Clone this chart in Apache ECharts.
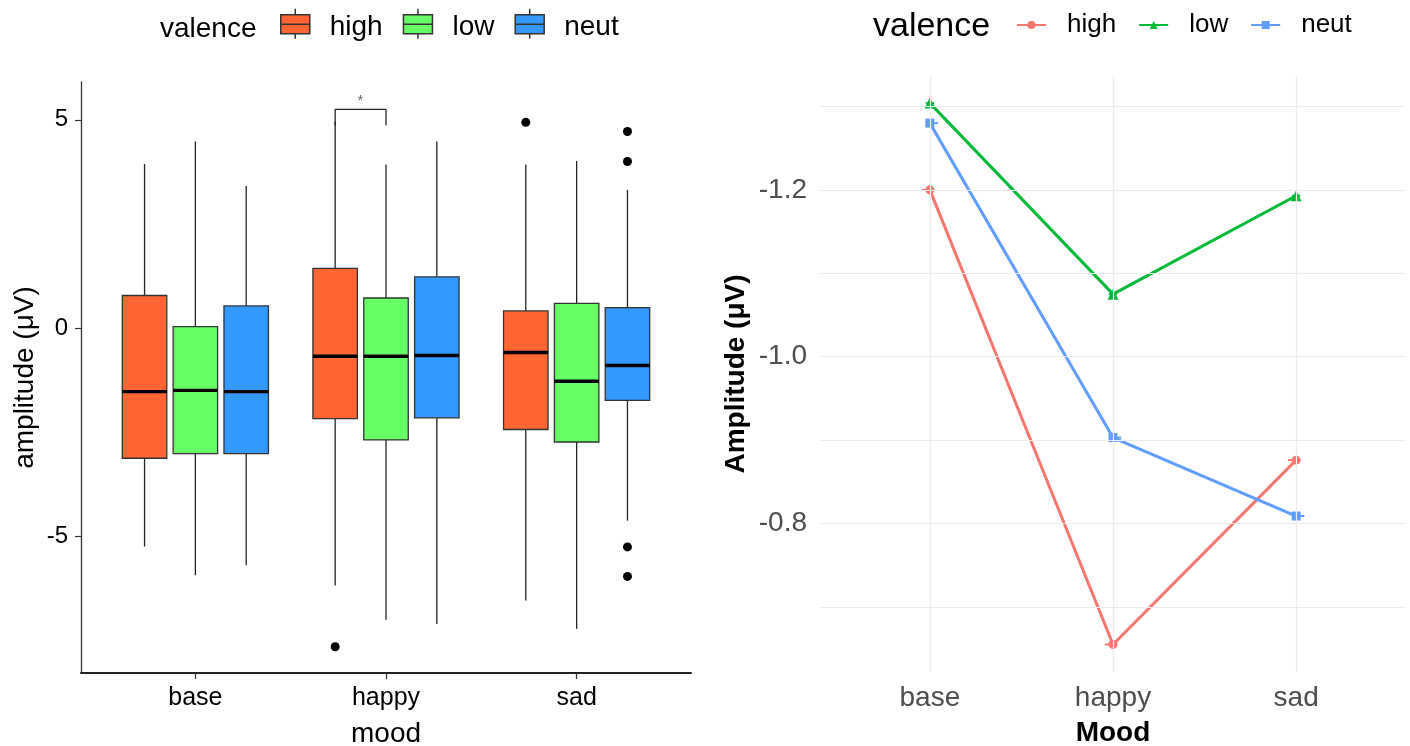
<!DOCTYPE html>
<html>
<head>
<meta charset="utf-8">
<script src="https://cdn.jsdelivr.net/npm/echarts@6/dist/echarts.min.js"></script>
<style>html,body{margin:0;padding:0;background:#fff}#c{width:1410px;height:746px}</style>
</head>
<body>
<div id="c"></div>
<script>
// ---------- data ----------
const moods = ['base', 'happy', 'sad'];
const valences = ['high', 'low', 'neut'];
// [lower whisker, Q1, median, Q3, upper whisker] for base, happy, sad
const boxHigh = [[-5.25, -3.13, -1.53, 0.78, 3.94], [-6.19, -2.18, -0.68, 1.43, 4.95], [-6.55, -2.44, -0.59, 0.41, 3.93]];
const boxLow  = [[-5.94, -3.02, -1.50, 0.03, 4.48], [-7.01, -2.69, -0.68, 0.72, 3.93], [-7.23, -2.74, -1.28, 0.59, 4.01]];
const boxNeut = [[-5.70, -3.02, -1.53, 0.53, 3.41], [-7.11, -2.16, -0.66, 1.23, 4.48], [-4.63, -1.74, -0.90, 0.49, 3.32]];
// outliers: [mood number (1..3), value]
const outlierHigh = [[2, -7.66], [3, 4.94]];
const outlierLow = [];
const outlierNeut = [[3, 4.72], [3, 4.00], [3, -5.26], [3, -5.97]];
// significance bracket (happy: high vs low)
const sigMood = [2];
const sigY = [5.25];
const sigTipY = [4.87, 4.87];
const sigLabel = ['*'];
const leftYTicks = [-5, 0, 5];

// right panel: means
const meanHigh = [-1.200, -0.655, -0.876];
const meanLow  = [-1.304, -1.075, -1.193];
const meanNeut = [-1.280, -0.903, -0.809];
const rightYTicks = [-1.2, -1.0, -0.8];
const rightGridY = [-1.3, -1.2, -1.1, -1.0, -0.9, -0.8, -0.7];

// ---------- styles ----------
const FONT = '"Liberation Sans", Arial, sans-serif';
const boxColors = ['#FF6633', '#66FF66', '#3399FF'];
const lineColors = ['#F8766D', '#00BA38', '#619CFF'];
const lineSymbols = ['circle', 'triangle', 'rect'];
const DODGE = 0.8 / 3;
const HALF = 0.7 / 3 / 2;
const ERR_W = 0.045;
const catPos = [1, 2, 3];

function makeBoxRenderer(vi) {
  return function (params, api) {
    const xc = api.value(0) + (vi - 1) * DODGE;
    const pLo = api.coord([xc, api.value(1)]);
    const pQ1 = api.coord([xc, api.value(2)]);
    const pMed = api.coord([xc, api.value(3)]);
    const pQ3 = api.coord([xc, api.value(4)]);
    const pHi = api.coord([xc, api.value(5)]);
    const xl = api.coord([xc - HALF, 0])[0];
    const xr = api.coord([xc + HALF, 0])[0];
    const ln = (x1, y1, x2, y2, w, c) => ({ type: 'line', shape: { x1, y1, x2, y2 }, style: { stroke: c, lineWidth: w } });
    return {
      type: 'group',
      children: [
        ln(pHi[0], pHi[1], pQ3[0], pQ3[1], 1.3, '#222'),
        ln(pQ1[0], pQ1[1], pLo[0], pLo[1], 1.3, '#222'),
        { type: 'rect', shape: { x: xl, y: pQ3[1], width: xr - xl, height: pQ1[1] - pQ3[1] },
          style: { fill: boxColors[vi], stroke: '#333', lineWidth: 1.3 } },
        ln(xl, pMed[1], xr, pMed[1], 3.4, '#000')
      ]
    };
  };
}

function makeDashRenderer(vi) {
  return function (params, api) {
    const x = api.value(0), y = api.value(1);
    const a = api.coord([x + (vi - 1) * ERR_W / 2 - ERR_W / 2, y]);
    const b = api.coord([x + (vi - 1) * ERR_W / 2 + ERR_W / 2, y]);
    return { type: 'line', shape: { x1: a[0], y1: a[1], x2: b[0], y2: b[1] }, style: { stroke: lineColors[vi], lineWidth: 2 } };
  };
}

const boxSets = [boxHigh, boxLow, boxNeut];
const outlierSets = [outlierHigh, outlierLow, outlierNeut];
const meanSets = [meanHigh, meanLow, meanNeut];

const series = [];
boxSets.forEach((set, vi) => {
  series.push({
    name: valences[vi], type: 'custom', xAxisIndex: 0, yAxisIndex: 0,
    renderItem: makeBoxRenderer(vi),
    itemStyle: { color: boxColors[vi] },
    encode: { x: 0, y: [1, 2, 3, 4, 5] },
    data: set.map((b, i) => [catPos[i]].concat(b)),
    z: 2
  });
});
outlierSets.forEach((set, vi) => {
  series.push({
    name: valences[vi], type: 'scatter', xAxisIndex: 0, yAxisIndex: 0,
    symbol: 'circle', symbolSize: 9, itemStyle: { color: '#000', borderWidth: 0, opacity: 1 },
    data: set.map(d => [d[0] + (vi - 1) * DODGE, d[1]]),
    z: 3, silent: true
  });
});
// significance bracket
const xA = sigMood[0] + (0 - 1) * DODGE;
const xB = sigMood[0] + (1 - 1) * DODGE;
series.push({
  type: 'line', xAxisIndex: 0, yAxisIndex: 0, silent: true, symbol: 'none',
  lineStyle: { color: '#222', width: 1.3 },
  data: [[xA, sigTipY[0]], [xA, sigY[0]], [xB, sigY[0]], [xB, sigTipY[1]]],
  z: 4
});
series.push({
  type: 'scatter', xAxisIndex: 0, yAxisIndex: 0, silent: true, symbolSize: 0,
  label: { show: true, position: 'inside', formatter: sigLabel[0], fontSize: 14, color: '#333', fontFamily: FONT },
  data: [[(xA + xB) / 2, sigY[0] + 0.2]],
  z: 4
});
// right panel gridlines
series.push({
  type: 'line', xAxisIndex: 1, yAxisIndex: 1, data: [], silent: true, z: 1,
  markLine: {
    silent: true, symbol: 'none', label: { show: false }, animation: false,
    lineStyle: { color: '#EBEBEB', width: 1.2, type: 'solid' },
    emphasis: { disabled: true },
    data: rightGridY.map(v => ({ yAxis: v })).concat(catPos.map(v => ({ xAxis: v })))
  }
});
meanSets.forEach((set, vi) => {
  series.push({
    type: 'custom', xAxisIndex: 1, yAxisIndex: 1, silent: true, z: 3,
    renderItem: makeDashRenderer(vi),
    encode: { x: 0, y: 1 },
    data: set.map((v, i) => [catPos[i], v])
  });
});
meanSets.forEach((set, vi) => {
  series.push({
    name: 'mean:' + valences[vi], type: 'line', xAxisIndex: 1, yAxisIndex: 1,
    symbol: lineSymbols[vi], symbolSize: vi === 1 ? 11 : 9, showSymbol: true,
    lineStyle: { color: lineColors[vi], width: 3 },
    itemStyle: { color: lineColors[vi], borderWidth: 0, opacity: 1 },
    emphasis: { disabled: true },
    data: set.map((v, i) => [catPos[i], v]),
    z: 4
  });
});

const option = {
  animation: false,
  textStyle: { fontFamily: FONT },
  title: [
    { text: 'valence', left: 160, top: 15, padding: 0, textStyle: { fontSize: 28, fontWeight: 'normal', color: '#000', fontFamily: FONT } },
    { text: 'valence', left: 873, top: 10, padding: 0, textStyle: { fontSize: 34, fontWeight: 'normal', color: '#000', fontFamily: FONT } }
  ],
  legend: [
    {
      left: 280, top: 8, padding: 0, orient: 'horizontal',
      itemWidth: 29, itemHeight: 38, itemGap: 20,
      textStyle: { fontSize: 28, color: '#000', fontFamily: FONT, padding: [0, 0, 0, 15] },
      data: valences.map((v, i) => ({
        name: v,
        icon: 'path://M0,6L29,6L29,25L0,25Z M0,15.5L29,15.5 M14.5,0L14.5,6 M14.5,25L14.5,30 M0,38',
        itemStyle: { color: boxColors[i], borderColor: '#333', borderWidth: 1.5 }
      })),
      selectedMode: false
    },
    {
      left: 1016, top: 12, padding: 0, orient: 'horizontal',
      itemWidth: 29, itemHeight: 10, itemGap: 22,
      textStyle: { fontSize: 26, color: '#000', fontFamily: FONT, padding: [4, 0, 0, 16] },
      formatter: n => n.split(':')[1],
      data: valences.map(v => 'mean:' + v),
      selectedMode: false
    }
  ],
  grid: [
    { left: 81, right: 719, top: 82, bottom: 73, outerBoundsMode: 'none' },
    { left: 820, right: 4, top: 76, bottom: 74, outerBoundsMode: 'none' }
  ],
  xAxis: [
    {
      type: 'value', gridIndex: 0, min: 0.4, max: 3.6,
      splitLine: { show: false },
      axisLine: { show: true, onZero: false, lineStyle: { color: '#222', width: 2 } },
      axisTick: { show: true, customValues: catPos, length: 6, lineStyle: { color: '#333', width: 1.2 } },
      axisLabel: { customValues: catPos, formatter: v => moods[Math.round(v) - 1], fontSize: 25, color: '#000', margin: 13, fontFamily: FONT },
      name: 'mood', nameLocation: 'middle', nameGap: 47,
      nameTextStyle: { fontSize: 28, color: '#000', fontFamily: FONT }
    },
    {
      type: 'value', gridIndex: 1, min: 0.4, max: 3.6,
      splitLine: { show: false },
      axisLine: { show: false, onZero: false }, axisTick: { show: false },
      axisLabel: { customValues: catPos, formatter: v => moods[Math.round(v) - 1], fontSize: 28, color: '#4D4D4D', margin: 12, fontFamily: FONT },
      name: 'Mood', nameLocation: 'middle', nameGap: 47,
      nameTextStyle: { fontSize: 28, color: '#000', fontWeight: 'bold', fontFamily: FONT }
    }
  ],
  yAxis: [
    {
      type: 'value', gridIndex: 0, min: -8.29, max: 5.91,
      splitLine: { show: false },
      axisLine: { show: true, onZero: false, lineStyle: { color: '#333', width: 1.3 } },
      axisTick: { show: true, customValues: leftYTicks, length: 6, lineStyle: { color: '#333', width: 1.2 } },
      axisLabel: { customValues: leftYTicks, fontSize: 24, color: '#000', margin: 13, fontFamily: FONT },
      name: 'amplitude (μV)', nameLocation: 'middle', nameGap: 42, nameRotate: 90,
      nameTextStyle: { fontSize: 28, color: '#000', fontFamily: FONT }
    },
    {
      type: 'value', gridIndex: 1, inverse: true, min: -1.3365, max: -0.622,
      splitLine: { show: false },
      axisLine: { show: false, onZero: false }, axisTick: { show: false },
      axisLabel: { customValues: rightYTicks, formatter: v => v.toFixed(1), fontSize: 28, color: '#4D4D4D', margin: 13, fontFamily: FONT },
      name: 'Amplitude (μV)', nameLocation: 'middle', nameGap: 70, nameRotate: 90,
      nameTextStyle: { fontSize: 28, color: '#000', fontWeight: 'bold', fontFamily: FONT }
    }
  ],
  series: series
};

const chart = echarts.init(document.getElementById('c'), null, { renderer: 'canvas' });
chart.setOption(option);
</script>
</body>
</html>
